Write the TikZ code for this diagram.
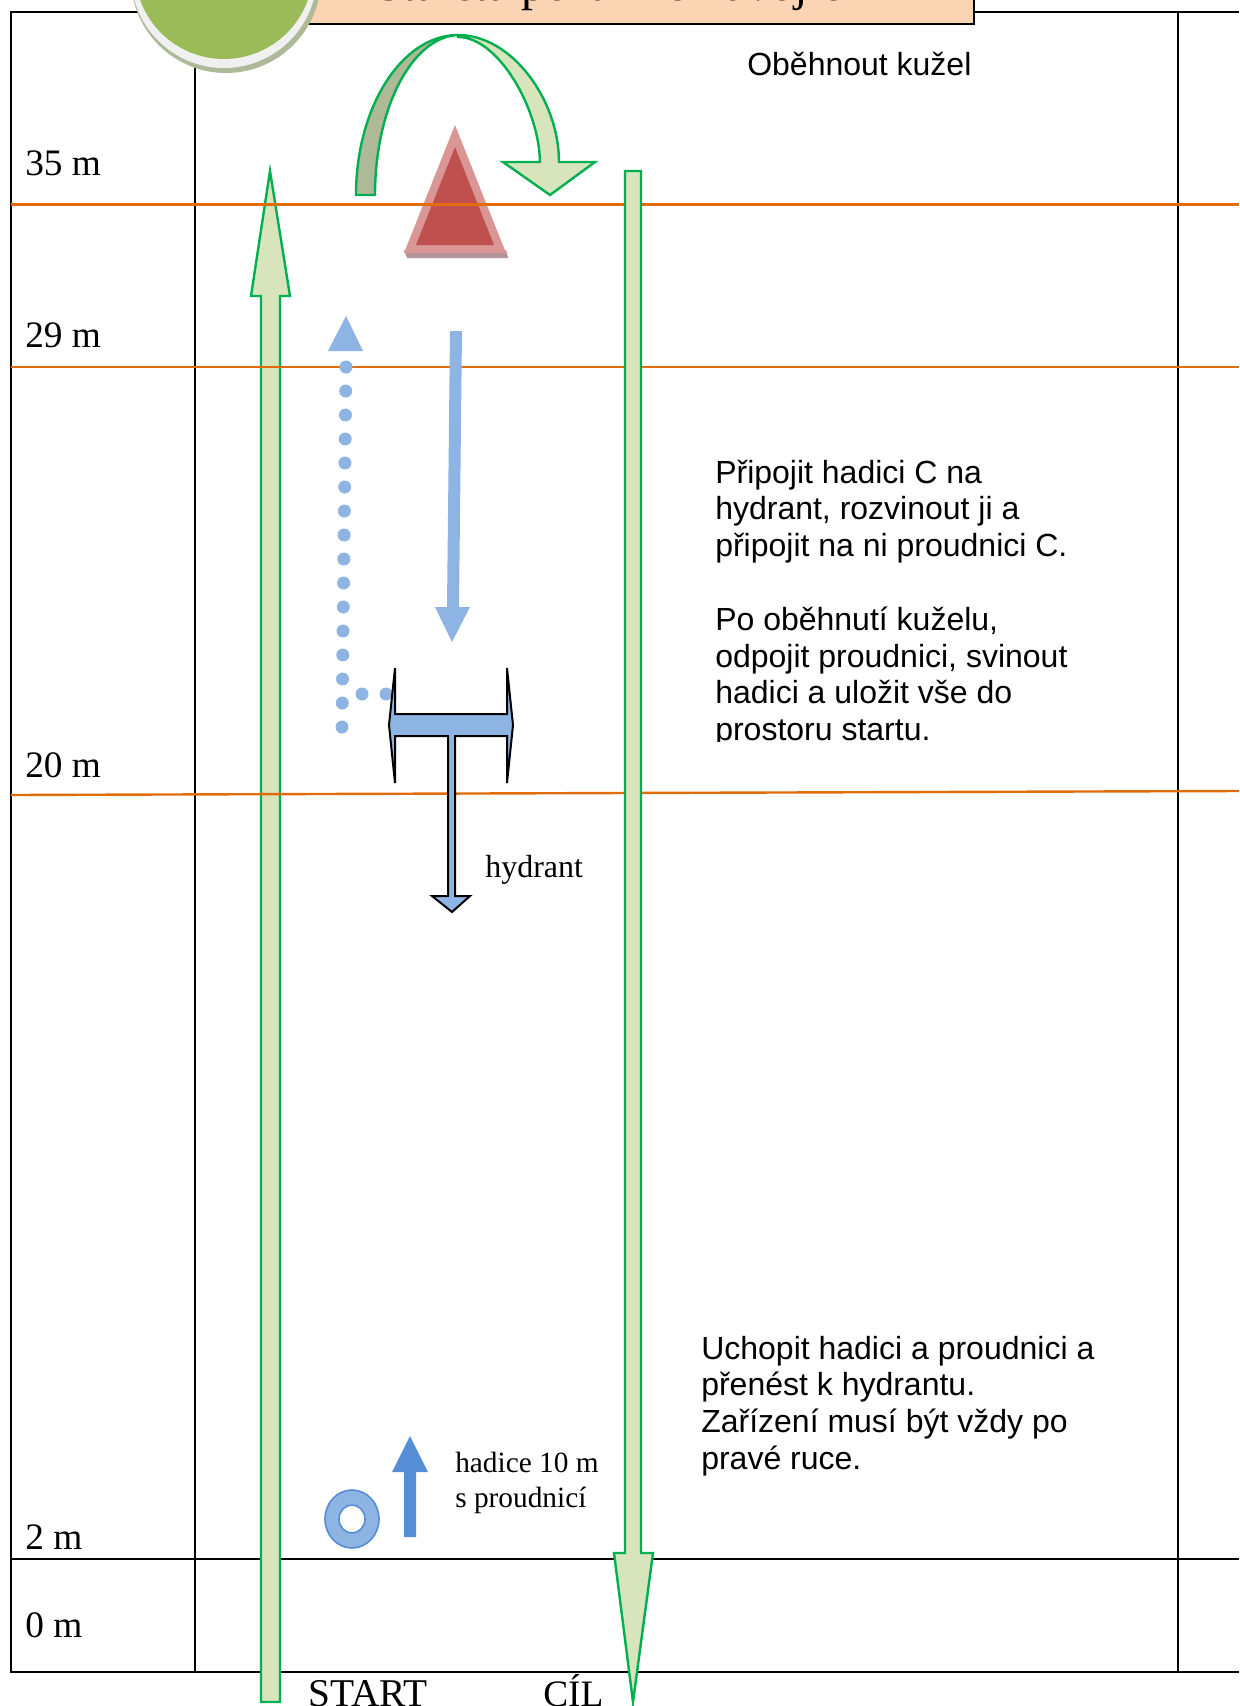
\documentclass[tikz,border=0pt]{standalone}
\usepackage{fontspec}
\setmainfont{Liberation Serif}
\newfontfamily\arialfont{Liberation Sans}
\usepackage{xcolor}
\definecolor{tablegreen}{HTML}{00B050}
\definecolor{palegreen}{HTML}{D7E4BC}
\definecolor{shadegreen}{HTML}{AEB998}
\definecolor{linkorange}{HTML}{E36C0A}
\definecolor{hoseblue}{HTML}{8EB4E3}
\definecolor{startblue}{HTML}{558ED5}
\definecolor{conered}{HTML}{C0504D}
\definecolor{conepink}{HTML}{D99694}
\definecolor{coneshadow}{HTML}{B39499}
\definecolor{titlepeach}{HTML}{FBD4B4}
\definecolor{badgegreen}{HTML}{9BBB59}
\definecolor{badgering}{HTML}{F0F0F0}
\tikzset{
    tableline/.style={draw=black, line width=1.8pt},
    distline/.style={draw=linkorange, line width=1.8pt},
    runarrow/.style={draw=tablegreen, fill=palegreen, line width=1.8pt, line join=miter},
    hydrantshape/.style={draw=black, fill=hoseblue, line width=1.5pt, line join=miter},
    distlabel/.style={anchor=base west, inner sep=0pt, font=\fontsize{28}{32}\selectfont},
    smalllabel/.style={anchor=base west, inner sep=0pt, font=\fontsize{22}{26}\selectfont},
    notetext/.style={anchor=north west, inner sep=0pt, align=left, font=\arialfont\fontsize{24}{27.6}\selectfont}
}

\begin{document}
\begin{tikzpicture}[x=0.75pt,y=-0.75pt]
  \useasboundingbox (0,0) rectangle (1239,1706);

  % Table lines
  \draw[tableline] (1239,12) -- (11,12) -- (11,1672) -- (1239,1672);
  \draw[tableline] (11,1559) -- (1239,1559);
  \foreach \x in {195,1178} {
    \draw[tableline] (\x,12) -- (\x,1672);
  }

  % Cone
  \fill[coneshadow] (407,258) -- (508,258) -- (506,250) -- (404,250) -- cycle;
  \fill[conepink] (455,125) -- (506,253) -- (404,253) -- cycle;
  \fill[conered] (455,147) -- (494,245) -- (416,245) -- cycle;

  % Up arrow goes under the orange lines, down arrow over them
  \draw[runarrow] (261,1702) -- (261,296) -- (251,296) -- (270,171) -- (290,296) -- (280,296) -- (280,1702) -- cycle;

  % Distance lines
  \draw[distline] (11,204.5) -- (1239,204.5);
  \draw[distline] (11,367) -- (1239,367);
  \draw[distline] (11,795) -- (1239,791);

  \draw[runarrow] (625,171) -- (641,171) -- (641,1553) -- (653,1553) -- (633,1702) -- (614,1553) -- (625,1553) -- cycle;

  % Arrow round the cone
  \draw[runarrow, fill=shadegreen] (356,195) .. controls (356,107) and (402,35) .. (458,35)
    .. controls (412,37) and (375,108) .. (375,195) -- cycle;
  \draw[runarrow] (458,35) .. controls (512,35) and (559,100) .. (559,162) -- (595,162) -- (550,195)
    -- (503,162) -- (540,162) .. controls (539,108) and (498,37) .. (458,37) -- cycle;

  % Hose run out and back
  \fill[hoseblue] (450,331) -- (462,331) -- (459,607) -- (470,607) -- (452,642) -- (435,607) -- (447,607) -- cycle;
  \fill[hoseblue] (346,316) -- (363,351) -- (328,351) -- cycle;
  \foreach \i in {0,...,15} {
    \fill[hoseblue] ({346-\i*4/15},{367+\i*24}) circle (6.5);
  }
  \foreach \x in {362,386} {
    \fill[hoseblue] (\x,694) circle (6.5);
  }

  % Hydrant
  \draw[hydrantshape] (452,912) -- (432,896) -- (448,896) -- (448,730) -- (455,730) -- (455,896) -- (470,896) -- cycle;
  \draw[hydrantshape] (389,725) -- (395,668) -- (395,714) -- (507,714) -- (507,668) -- (513,725)
    -- (507,783) -- (507,736) -- (395,736) -- (395,783) -- cycle;
  \fill[hoseblue] (449.2,734) rectangle (453.8,740);

  % Rolled hose and start arrow
  \draw[draw=startblue, fill=hoseblue, line width=1.2pt, even odd rule]
    (352,1519) ellipse [x radius=27, y radius=29] (352,1519) ellipse [x radius=13, y radius=14];
  \fill[startblue] (410,1436) -- (428,1472) -- (416,1472) -- (416,1537) -- (404,1537) -- (404,1472) -- (392,1472) -- cycle;

  % Title strip, cut off by the page edge
  \draw[tableline, fill=titlepeach] (250,-5) rectangle (974,24);
  \node[anchor=base west, inner sep=0pt, font=\fontsize{36}{40}\selectfont] (title) at (376,0.5) {Štafeta požárních dvojic};

  % Badge
  \fill[shadegreen] (226,-22) circle (95);
  \fill[badgering] (224,-25) circle (93);
  \fill[badgegreen] (224,-30) circle (89);

  % Distances
  \node[distlabel] (d35) at (25,175) {35 m};
  \node[distlabel] (d29) at (25,347) {29 m};
  \node[distlabel] (d20) at (25,777) {20 m};
  \node[distlabel] (d2) at (25,1549) {2 m};
  \node[distlabel] (d0) at (25,1637) {0 m};

  % Labels
  \node[distlabel, font=\fontsize{29.5}{32}\selectfont] (start) at (308,1706) {START};
  \node[distlabel] (finish) at (543,1706) {CÍL};
  \node[smalllabel, font=\fontsize{24}{27}\selectfont] (hydrant) at (485,877) {hydrant};
  \node[smalllabel] (hose) at (455,1472) {hadice 10 m};
  \node[smalllabel] (nozzle) at (455,1507) {s proudnicí};

  % Notes
  \node[notetext] (round) at (747,49) {\strut Oběhnout kužel};
  \begin{scope}
    \clip (700,440) rectangle (1100,741);
    \node[notetext] (connect) at (715,457) {\strut Připojit hadici C na\\hydrant, rozvinout ji a\\připojit na ni proudnici C.\\[27.6pt]Po oběhnutí kuželu,\\odpojit proudnici, svinout\\hadici a uložit vše do\\prostoru startu.};
  \end{scope}
  \node[notetext] (carry) at (701,1333) {\strut Uchopit hadici a proudnici a\\přenést k hydrantu.\\Zařízení musí být vždy po\\pravé ruce.};
\end{tikzpicture}
\end{document}
